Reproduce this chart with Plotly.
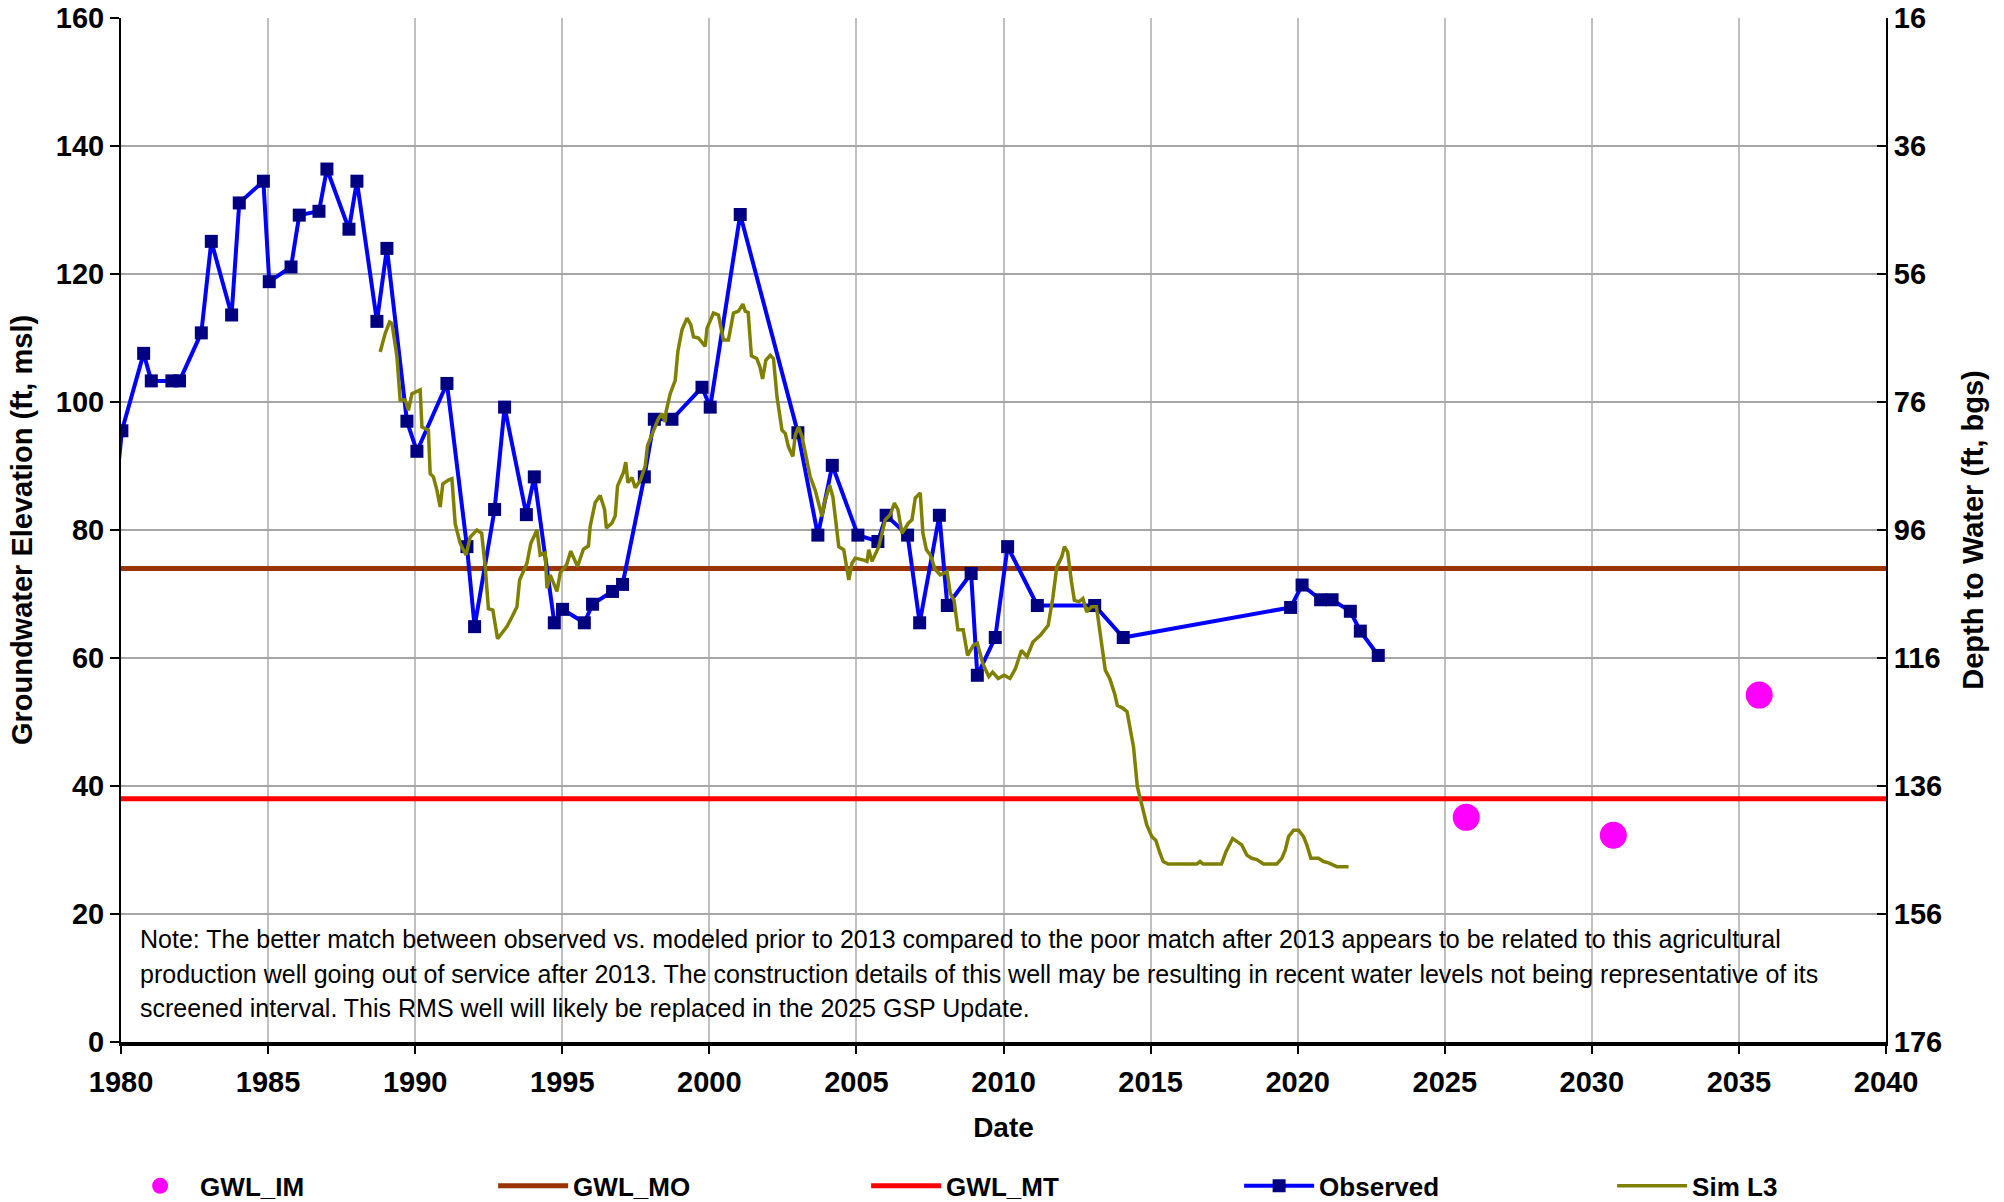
import plotly.graph_objects as go

# ---------------- data ----------------
obs_year = [1979.7, 1980.03, 1980.77, 1981.03, 1981.73, 1981.99, 1982.73, 1983.07, 1983.76, 1984.02,
            1984.84, 1985.04, 1985.78, 1986.06, 1986.73, 1987.00, 1987.75, 1988.02, 1988.70, 1989.04,
            1989.72, 1990.06, 1991.08, 1991.76, 1992.02, 1992.70, 1993.04, 1993.78, 1994.05, 1994.73,
            1995.01, 1995.75, 1996.03, 1996.71, 1997.05, 1997.79, 1998.13, 1998.73, 1999.75, 2000.03,
            2001.05, 2003.01, 2003.69, 2004.18, 2005.05, 2005.73, 2006.01, 2006.74, 2007.15, 2007.82,
            2008.09, 2008.90, 2009.11, 2009.72, 2010.14, 2011.15, 2013.10, 2014.07, 2019.76, 2020.15,
            2020.78, 2021.17, 2021.79, 2022.13, 2022.74]
obs_elev = [80.0, 95.5, 107.6, 103.3, 103.3, 103.3, 110.8, 125.1, 113.6, 131.1,
            134.5, 118.8, 121.1, 129.2, 129.8, 136.4, 127.0, 134.5, 112.6, 124.0,
            97.0, 92.3, 102.9, 77.4, 64.9, 83.2, 99.2, 82.4, 88.3, 65.5,
            67.6, 65.5, 68.4, 70.4, 71.5, 88.3, 97.3, 97.3, 102.3, 99.2,
            129.3, 95.2, 79.2, 90.1, 79.2, 78.2, 82.3, 79.2, 65.5, 82.3,
            68.2, 73.2, 57.3, 63.2, 77.4, 68.2, 68.2, 63.2, 67.9, 71.4,
            69.1, 69.1, 67.3, 64.2, 60.4]

sim_year = [1988.81, 1988.98, 1989.13, 1989.21, 1989.38, 1989.49, 1989.66, 1989.77, 1989.89, 1990.17,
            1990.23, 1990.45, 1990.51, 1990.62, 1990.74, 1990.85, 1990.94, 1991.13, 1991.25, 1991.36,
            1991.53, 1991.73, 1991.87, 1992.10, 1992.26, 1992.38, 1992.49, 1992.64, 1992.80, 1992.95,
            1993.12, 1993.29, 1993.46, 1993.55, 1993.80, 1993.93, 1994.14, 1994.25, 1994.42, 1994.48,
            1994.59, 1994.82, 1994.93, 1995.15, 1995.29, 1995.52, 1995.72, 1995.89, 1995.95, 1996.12,
            1996.29, 1996.44, 1996.50, 1996.69, 1996.80, 1996.88, 1997.08, 1997.16, 1997.23, 1997.37,
            1997.48, 1997.65, 1997.82, 1997.90, 1998.10, 1998.27, 1998.39, 1998.50, 1998.53, 1998.67,
            1998.84, 1998.93, 1999.07, 1999.24, 1999.37, 1999.46, 1999.63, 1999.86, 1999.92, 2000.14,
            2000.31, 2000.48, 2000.65, 2000.82, 2000.99, 2001.14, 2001.22, 2001.32, 2001.43, 2001.61,
            2001.72, 2001.81, 2001.92, 2002.07, 2002.18, 2002.30, 2002.47, 2002.58, 2002.69, 2002.84,
            2002.92, 2003.03, 2003.15, 2003.26, 2003.43, 2003.60, 2003.77, 2003.83, 2003.91, 2004.09,
            2004.20, 2004.28, 2004.40, 2004.57, 2004.74, 2004.85, 2004.96, 2005.25, 2005.36, 2005.42,
            2005.53, 2005.76, 2005.98, 2006.15, 2006.29, 2006.41, 2006.55, 2006.77, 2006.89, 2007.00,
            2007.17, 2007.26, 2007.38, 2007.51, 2007.68, 2007.85, 2008.08, 2008.19, 2008.32, 2008.45,
            2008.63, 2008.78, 2008.98, 2009.11, 2009.30, 2009.50, 2009.63, 2009.82, 2010.02, 2010.22,
            2010.41, 2010.61, 2010.80, 2011.00, 2011.26, 2011.52, 2011.68, 2011.81, 2011.98, 2012.07,
            2012.18, 2012.31, 2012.41, 2012.57, 2012.70, 2012.83, 2012.99, 2013.16, 2013.29, 2013.46,
            2013.61, 2013.78, 2013.87, 2014.07, 2014.20, 2014.33, 2014.42, 2014.55, 2014.70, 2014.87,
            2015.04, 2015.18, 2015.32, 2015.43, 2015.60, 2016.57, 2016.68, 2016.79, 2017.41, 2017.56,
            2017.79, 2017.93, 2018.10, 2018.27, 2018.44, 2018.61, 2018.84, 2019.29, 2019.46, 2019.58,
            2019.69, 2019.86, 2020.03, 2020.20, 2020.31, 2020.45, 2020.71, 2020.88, 2021.05, 2021.33,
            2021.73]
sim_elev = [107.8, 110.7, 112.5, 112.3, 107.1, 100.3, 100.3, 98.7, 101.3, 101.9,
            96.1, 95.6, 88.8, 88.3, 86.2, 83.6, 87.2, 87.8, 88.0, 81.0,
            77.9, 76.1, 78.9, 80.0, 79.5, 74.3, 67.7, 67.5, 63.0, 63.8,
            64.9, 66.4, 68.0, 72.2, 74.8, 77.9, 80.0, 76.1, 76.4, 70.9,
            73.0, 70.4, 73.3, 74.6, 76.7, 74.3, 77.0, 77.5, 80.6, 84.3,
            85.4, 83.2, 80.3, 81.1, 82.2, 86.9, 89.0, 90.6, 87.4, 88.2,
            86.6, 87.7, 90.0, 93.2, 95.3, 97.4, 98.2, 96.9, 98.5, 101.3,
            103.4, 107.9, 111.3, 113.1, 112.1, 110.2, 110.0, 108.7, 111.5, 113.9,
            113.6, 109.7, 109.7, 113.9, 114.2, 115.3, 114.2, 114.0, 107.2, 106.8,
            105.5, 103.6, 106.5, 107.3, 106.8, 100.8, 95.6, 95.1, 93.0, 91.5,
            94.8, 96.1, 94.6, 92.0, 88.3, 86.2, 83.1, 82.1, 84.2, 87.0,
            85.2, 82.1, 77.4, 76.9, 72.2, 74.8, 75.6, 75.3, 75.1, 76.9,
            75.1, 77.4, 81.6, 82.4, 84.2, 83.2, 79.5, 81.1, 81.6, 85.0,
            85.8, 79.5, 76.9, 76.1, 73.8, 73.0, 73.5, 70.1, 69.0, 64.4,
            64.4, 60.4, 62.0, 62.3, 59.1, 57.1, 57.8, 56.8, 57.3, 56.8,
            58.4, 61.2, 60.2, 62.5, 63.6, 65.1, 69.5, 74.2, 75.8, 77.4,
            76.6, 71.9, 69.0, 68.8, 69.3, 67.2, 68.0, 68.0, 63.8, 58.1,
            56.8, 54.4, 52.6, 52.1, 51.6, 48.7, 46.1, 39.9, 36.8, 33.9,
            32.1, 31.5, 29.5, 28.2, 27.8, 27.8, 28.2, 27.8, 27.8, 29.7,
            31.8, 31.3, 30.8, 29.2, 28.7, 28.5, 27.8, 27.8, 28.7, 30.0,
            32.1, 33.1, 33.1, 32.1, 30.8, 28.7, 28.7, 28.2, 28.0, 27.4,
            27.4]

im_year = [2025.73, 2030.73, 2035.69]
im_elev = [35.1, 32.3, 54.2]

mo_year = [1979.4, 2040.6]
mo_elev = [74.0, 74.0]
mt_year = [1979.4, 2040.6]
mt_elev = [38.0, 38.0]

x_ticks = list(range(1980, 2041, 5))
y_ticks = list(range(0, 161, 20))
depth_ticks = list(range(16, 177, 20))

note_lines = [
    "Note: The better match between observed vs. modeled prior to 2013 compared to the poor match after 2013 appears to be related to this agricultural",
    "production well going out of service after 2013. The construction details of this well may be resulting in recent water levels not being representative of its",
    "screened interval. This RMS well will likely be replaced in the 2025 GSP Update.",
]
note_y = [0.1006, 0.0664, 0.0332]

FONT = "Liberation Sans, Arial, sans-serif"

fig = go.Figure()
fig.add_trace(go.Scatter(x=im_year, y=im_elev, mode="markers", name="GWL_IM",
                         marker=dict(color="#ff00ff", size=27, symbol="circle")))
fig.add_trace(go.Scatter(x=mo_year, y=mo_elev, mode="lines", name="GWL_MO",
                         line=dict(color="#993300", width=5)))
fig.add_trace(go.Scatter(x=mt_year, y=mt_elev, mode="lines", name="GWL_MT",
                         line=dict(color="#ff0000", width=5)))
fig.add_trace(go.Scatter(x=obs_year, y=obs_elev, mode="lines+markers", name="Observed",
                         line=dict(color="#0000ff", width=4),
                         marker=dict(color="#000080", size=13, symbol="square")))
fig.add_trace(go.Scatter(x=sim_year, y=sim_elev, mode="lines", name="Sim L3",
                         line=dict(color="#808000", width=3.5)))

fig.update_layout(
    width=2004, height=1202,
    margin=dict(l=121, r=118, t=18, b=160, autoexpand=False),
    paper_bgcolor="white", plot_bgcolor="white",
    font=dict(family=FONT, size=26, color="black"),
    xaxis=dict(range=[1980, 2040], tickvals=x_ticks, ticktext=[str(v) for v in x_ticks],
               showgrid=True, gridcolor="#c0c0c0", gridwidth=2,
               showline=True, linecolor="black", linewidth=4,
               ticks="outside", ticklen=8, tickwidth=2, tickcolor="black",
               ticklabelstandoff=3, automargin=False, ticklabeloverflow="allow",
               tickfont=dict(family=FONT, size=29, color="black", weight="bold"),
               title=dict(text="<b>Date</b>", font=dict(family=FONT, size=28), standoff=22),
               zeroline=False),
    yaxis=dict(range=[0, 160], tickvals=y_ticks,
               showgrid=True, gridcolor="#a6a6a6", gridwidth=2,
               showline=True, linecolor="black", linewidth=2,
               ticks="outside", ticklen=9, tickwidth=2, tickcolor="black",
               automargin=False, ticklabeloverflow="allow",
               tickfont=dict(family=FONT, size=29, color="black", weight="bold"),
               title=dict(text="<b>Groundwater Elevation (ft, msl)</b>", font=dict(family=FONT, size=29), standoff=15),
               zeroline=False),
    yaxis2=dict(range=[176, 16], tickvals=depth_ticks, overlaying="y", side="right",
                showgrid=False, showline=True, linecolor="black", linewidth=2,
                ticks="inside", ticklen=9, tickwidth=2, tickcolor="black",
                automargin=False, ticklabeloverflow="allow",
                tickfont=dict(family=FONT, size=29, color="black", weight="bold"),
                title=dict(text="<b>Depth to Water (ft, bgs)</b>", font=dict(family=FONT, size=29), standoff=22),
                zeroline=False),
    legend=dict(orientation="h", x=-0.0005, xanchor="left", y=-0.1406, yanchor="middle",
                font=dict(family=FONT, size=26, weight="bold"),
                itemwidth=70, entrywidth=288, entrywidthmode="pixels",
                bgcolor="rgba(0,0,0,0)", traceorder="normal"),
    showlegend=True,
    annotations=[dict(text=t, xref="paper", yref="paper", x=0.0096, y=yy,
                      xanchor="left", yanchor="middle", align="left", showarrow=False,
                      font=dict(family=FONT, size=25, color="black"))
                 for t, yy in zip(note_lines, note_y)],
)

# invisible trace to anchor the secondary axis
fig.add_trace(go.Scatter(x=[2000], y=[100], yaxis="y2", mode="markers",
                         marker=dict(opacity=0), showlegend=False, hoverinfo="skip"))

# remove the default page margin so the figure fills the window exactly
fig.write_html("out.html",
               config={"displayModeBar": False},
               post_script="document.body.style.margin='0px';document.body.style.padding='0px';")
